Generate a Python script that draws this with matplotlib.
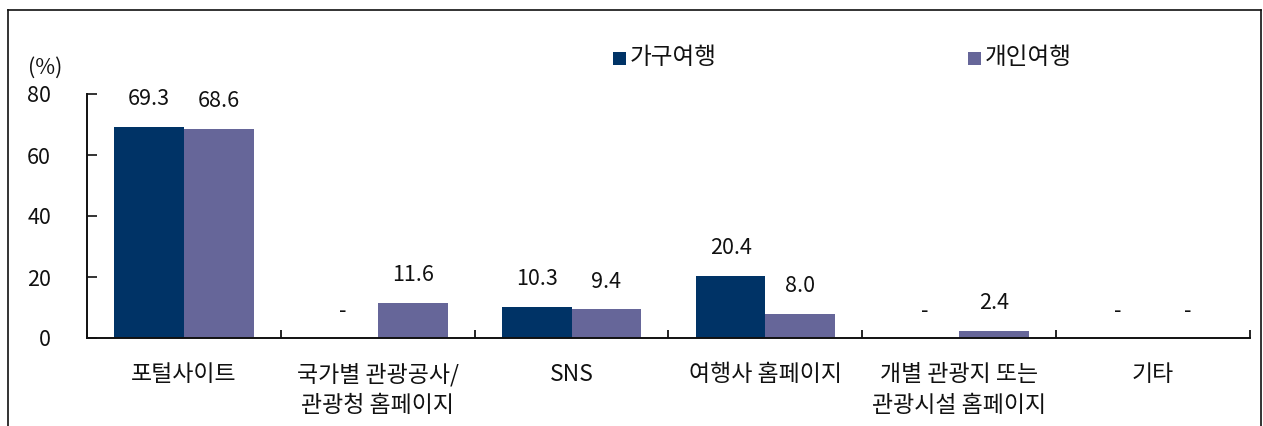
import matplotlib
matplotlib.use("Agg")
import matplotlib.pyplot as plt
from matplotlib.lines import Line2D
from matplotlib.patches import Rectangle
import numpy as np

plt.rcParams['font.family'] = ['Noto Sans CJK KR', 'DejaVu Sans']

categories = ["포털사이트", "국가별 관광공사/\n관광청 홈페이지", "SNS", "여행사 홈페이지",
              "개별 관광지 또는\n관광시설 홈페이지", "기타"]
series_names = ["가구여행", "개인여행"]
household = [69.3, 0, 10.3, 20.4, 0, 0]
individual = [68.6, 11.6, 9.4, 8.0, 2.4, 0]
household_labels = ["69.3", "-", "10.3", "20.4", "-", "-"]
individual_labels = ["68.6", "11.6", "9.4", "8.0", "2.4", "-"]
yticks = [0, 20, 40, 60, 80]
colors = ["#003366", "#666699"]

FS = 15.5
W, H = 1263, 426
fig = plt.figure(figsize=(W / 100, H / 100), dpi=100)
ax = fig.add_axes([87 / W, 1 - 338 / H, (1250 - 87) / W, (338 - 94) / H])

x = np.arange(len(categories))
bw = 0.36
ax.bar(x - bw / 2, household, bw, color=colors[0], label=series_names[0])
ax.bar(x + bw / 2, individual, bw, color=colors[1], label=series_names[1])

for xi, v, t in zip(x, household, household_labels):
    ax.text(xi - bw / 2, v + 9, t, ha='center', va='center', fontsize=FS, color='#111111')
for xi, v, t in zip(x, individual, individual_labels):
    ax.text(xi + bw / 2, v + 9, t, ha='center', va='center', fontsize=FS, color='#111111')

ax.set_xlim(-0.5, len(categories) - 0.5)
ax.set_ylim(0, 80)
ax.set_yticks(yticks)
ax.set_yticklabels([str(t) for t in yticks], fontsize=FS)
ax.tick_params(axis='y', direction='in', length=7, width=1.2, pad=26, colors='#111111')
ax.set_xticks(np.arange(len(categories) + 1) - 0.5, minor=True)
ax.set_xticks(x)
ax.set_xticklabels(categories, fontsize=16.5, linespacing=1.42)
ax.tick_params(axis='x', which='major', length=0, pad=18, colors='#111111')
ax.tick_params(axis='x', which='minor', direction='in', length=6, width=1.2)
for s in ['top', 'right']:
    ax.spines[s].set_visible(False)
for s in ['left', 'bottom']:
    ax.spines[s].set_linewidth(1.4)
    ax.spines[s].set_color('#111111')

fig.text(45 / W, 1 - 68 / H, "(%)", ha='center', va='center', fontsize=FS, color='#111111')

# legend
for px, name, c in [(613, series_names[0], colors[0]), (968, series_names[1], colors[1])]:
    fig.patches.append(Rectangle((px / W, 1 - 65 / H), 13 / W, 13 / H, transform=fig.transFigure,
                                 facecolor=c, edgecolor='none'))
    fig.text((px + 17) / W, 1 - 58 / H, name, ha='left', va='center', fontsize=17, color='#111111')

# outer frame
lc = '#111111'
fig.add_artist(Line2D([7.5 / W, 7.5 / W], [0, 1 - 10 / H], transform=fig.transFigure, color=lc, lw=1.2))
fig.add_artist(Line2D([7.5 / W, 1261 / W], [1 - 10 / H, 1 - 10 / H], transform=fig.transFigure, color=lc, lw=1.2))
fig.add_artist(Line2D([1261 / W, 1261 / W], [0, 1 - 10 / H], transform=fig.transFigure, color=lc, lw=1.2))

fig.savefig("out.png", dpi=100)
